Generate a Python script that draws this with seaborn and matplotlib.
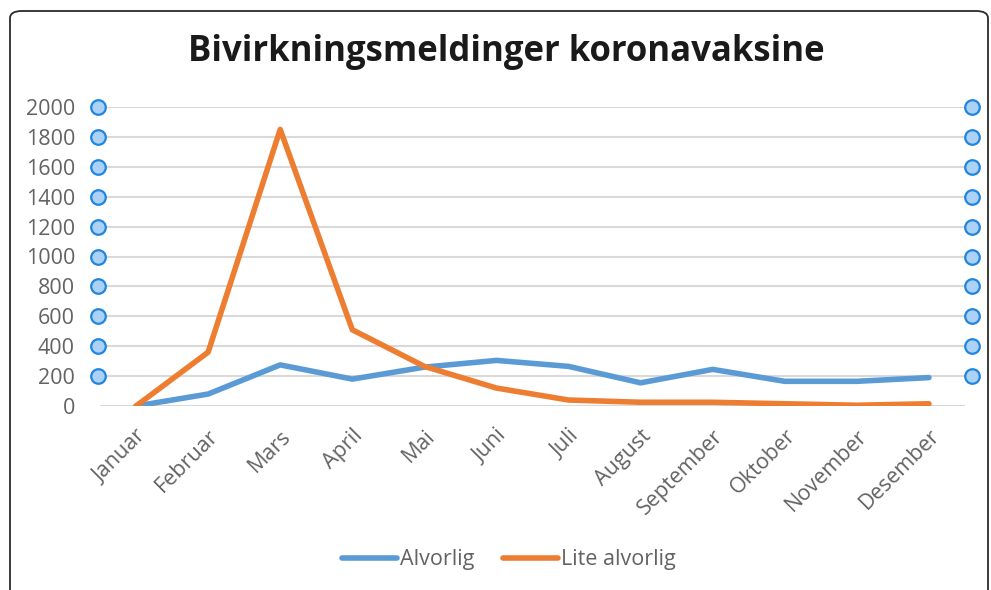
import matplotlib
matplotlib.use("Agg")
import matplotlib.pyplot as plt
import matplotlib.transforms as mtransforms
from matplotlib.patches import FancyBboxPatch
from matplotlib.lines import Line2D
import seaborn as sns
import pandas as pd

months = ["Januar", "Februar", "Mars", "April", "Mai", "Juni", "Juli",
          "August", "September", "Oktober", "November", "Desember"]
alvorlig = [0, 80, 275, 180, 260, 305, 265, 155, 245, 165, 165, 190]
lite_alvorlig = [0, 360, 1850, 510, 265, 120, 40, 25, 25, 15, 5, 15]
series_names = ["Alvorlig", "Lite alvorlig"]
yticks = [0, 200, 400, 600, 800, 1000, 1200, 1400, 1600, 1800, 2000]
title = "Bivirkningsmeldinger koronavaksine"

df = pd.DataFrame({
    "Måned": months * 2,
    "Antall": alvorlig + lite_alvorlig,
    "Type": [series_names[0]] * len(months) + [series_names[1]] * len(months),
})

sns.set_theme(style="white")
plt.rcParams["font.family"] = ["Open Sans", "DejaVu Sans"]

W, H = 991, 590
fig = plt.figure(figsize=(W / 100, H / 100), dpi=100)
fig.patch.set_facecolor("white")

# outer rounded border
border = FancyBboxPatch((10 / W, -30 / H), (988 - 10) / W, (590 - 11 + 30) / H,
                        boxstyle="round,pad=0,rounding_size=0.012",
                        transform=fig.transFigure, fill=False,
                        edgecolor="#2b2b2b", linewidth=1.3, clip_on=False)
fig.patches.append(border)

ax = fig.add_axes([100 / W, 184 / H, (965 - 100) / W, (406 - 107) / H])
ax.set_facecolor("white")

gray = "#636363"
for y in yticks:
    ax.axhline(y, color="#d9d9d9", lw=1.5, zorder=0)

palette = {"Alvorlig": "#5b9bd5", "Lite alvorlig": "#ed7d31"}
sns.lineplot(data=df, x="Måned", y="Antall", hue="Type", palette=palette,
             sort=False, lw=4, ax=ax, legend=False, zorder=3)

ax.set_xlim(-0.5, len(months) - 0.5)
ax.set_ylim(0, 2000)
ax.set_yticks(yticks)
ax.set_yticklabels([str(v) for v in yticks], color=gray, fontsize=15.5)
ax.set_xticks(range(len(months)))
ax.set_xticklabels(months, rotation=45, ha="right", rotation_mode="anchor",
                   color=gray, fontsize=15.5)
ax.tick_params(axis="y", length=0, pad=18)
ax.tick_params(axis="x", length=0, pad=14)
ax.set_xlabel("")
ax.set_ylabel("")
for s in ax.spines.values():
    s.set_visible(False)

# selection handles on gridlines
trans = mtransforms.blended_transform_factory(ax.transAxes, ax.transData)
for xf in (-2 / 865, 872 / 865):
    ax.scatter([xf] * (len(yticks) - 1), yticks[1:], s=110, transform=trans,
               facecolor="#abd1f7", edgecolor="#1f86e0", linewidth=1.6,
               clip_on=False, zorder=5)

fig.text(506 / W, 1 - 52 / H, title, ha="center", va="center",
         fontsize=25, fontweight="bold", color="#1a1a1a")

handles = [Line2D([], [], color=palette[n], lw=4, solid_capstyle="round") for n in series_names]
fig.legend(handles, series_names, loc="center", bbox_to_anchor=(509 / W, 1 - 560 / H),
           ncol=2, frameon=False, fontsize=15.5, handlelength=2.55,
           handletextpad=0.15, columnspacing=1.35, labelcolor=gray)

fig.savefig("out.png", dpi=100)
